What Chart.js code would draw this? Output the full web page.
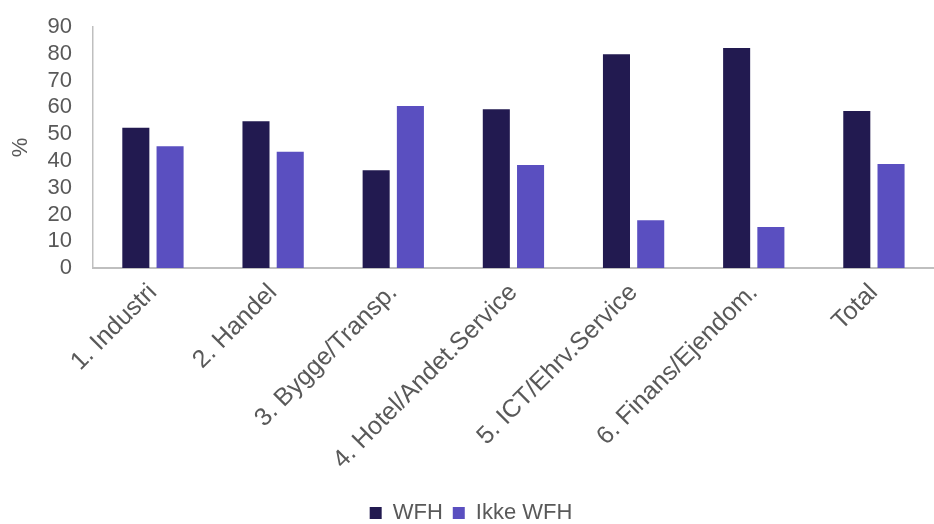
<!DOCTYPE html>
<html>
<head>
<meta charset="utf-8">
<script src="https://cdn.jsdelivr.net/npm/chart.js@4"></script>
<style>
  html, body { margin: 0; padding: 0; background: #fff; }
  #wrap { width: 934px; height: 524px; }
</style>
</head>
<body>
<div id="wrap"><canvas id="chart"></canvas></div>
<script>
const categories = ['1. Industri', '2. Handel', '3. Bygge/Transp.', '4. Hotel/Andet.Service', '5. ICT/Ehrv.Service', '6. Finans/Ejendom.', 'Total'];
const wfhValues = [52.4, 54.8, 36.5, 59.3, 79.8, 82.2, 58.6];
const ikkeWfhValues = [45.5, 43.4, 60.5, 38.5, 17.8, 15.3, 38.8];

const textColor = '#595959';
const axisColor = '#bfbfbf';
const fontFamily = '"Liberation Sans", Arial, sans-serif';

const ctx = document.getElementById('chart');

new Chart(ctx, {
    type: 'bar',
    data: {
        labels: categories,
        datasets: [
            {
                label: 'WFH',
                data: wfhValues,
                backgroundColor: '#221a50',
                categoryPercentage: 0.57,
                barPercentage: 0.79
            },
            {
                label: 'Ikke WFH',
                data: ikkeWfhValues,
                backgroundColor: '#5a4fc0',
                categoryPercentage: 0.57,
                barPercentage: 0.79
            }
        ]
    },
    options: {
        responsive: true,
        maintainAspectRatio: false,
        animation: false,
        layout: {
            padding: { top: 27, right: 0, left: 8, bottom: -10 }
        },
        scales: {
            x: {
                grid: { display: false },
                border: { display: true, color: axisColor, width: 2 },
                ticks: {
                    color: textColor,
                    font: { family: fontFamily, size: 25 },
                    maxRotation: 45,
                    minRotation: 45,
                    autoSkip: false,
                    padding: 2
                },
                // leave a gap between the slanted labels and the legend
                afterFit: (scale) => { scale.height = 224; }
            },
            y: {
                min: 0,
                max: 90,
                grid: { display: false },
                border: { display: true, color: axisColor, width: 1.5 },
                ticks: {
                    stepSize: 10,
                    autoSkip: false,
                    color: textColor,
                    padding: 13,
                    font: { family: fontFamily, size: 22 }
                },
                title: {
                    display: true,
                    text: '%',
                    color: textColor,
                    padding: 0,
                    font: { family: fontFamily, size: 22 }
                }
            }
        },
        plugins: {
            legend: {
                position: 'bottom',
                labels: {
                    color: textColor,
                    boxWidth: 12,
                    boxHeight: 12,
                    padding: 10,
                    font: { family: fontFamily, size: 22 }
                }
            },
            tooltip: { enabled: false }
        }
    }
});
</script>
</body>
</html>
